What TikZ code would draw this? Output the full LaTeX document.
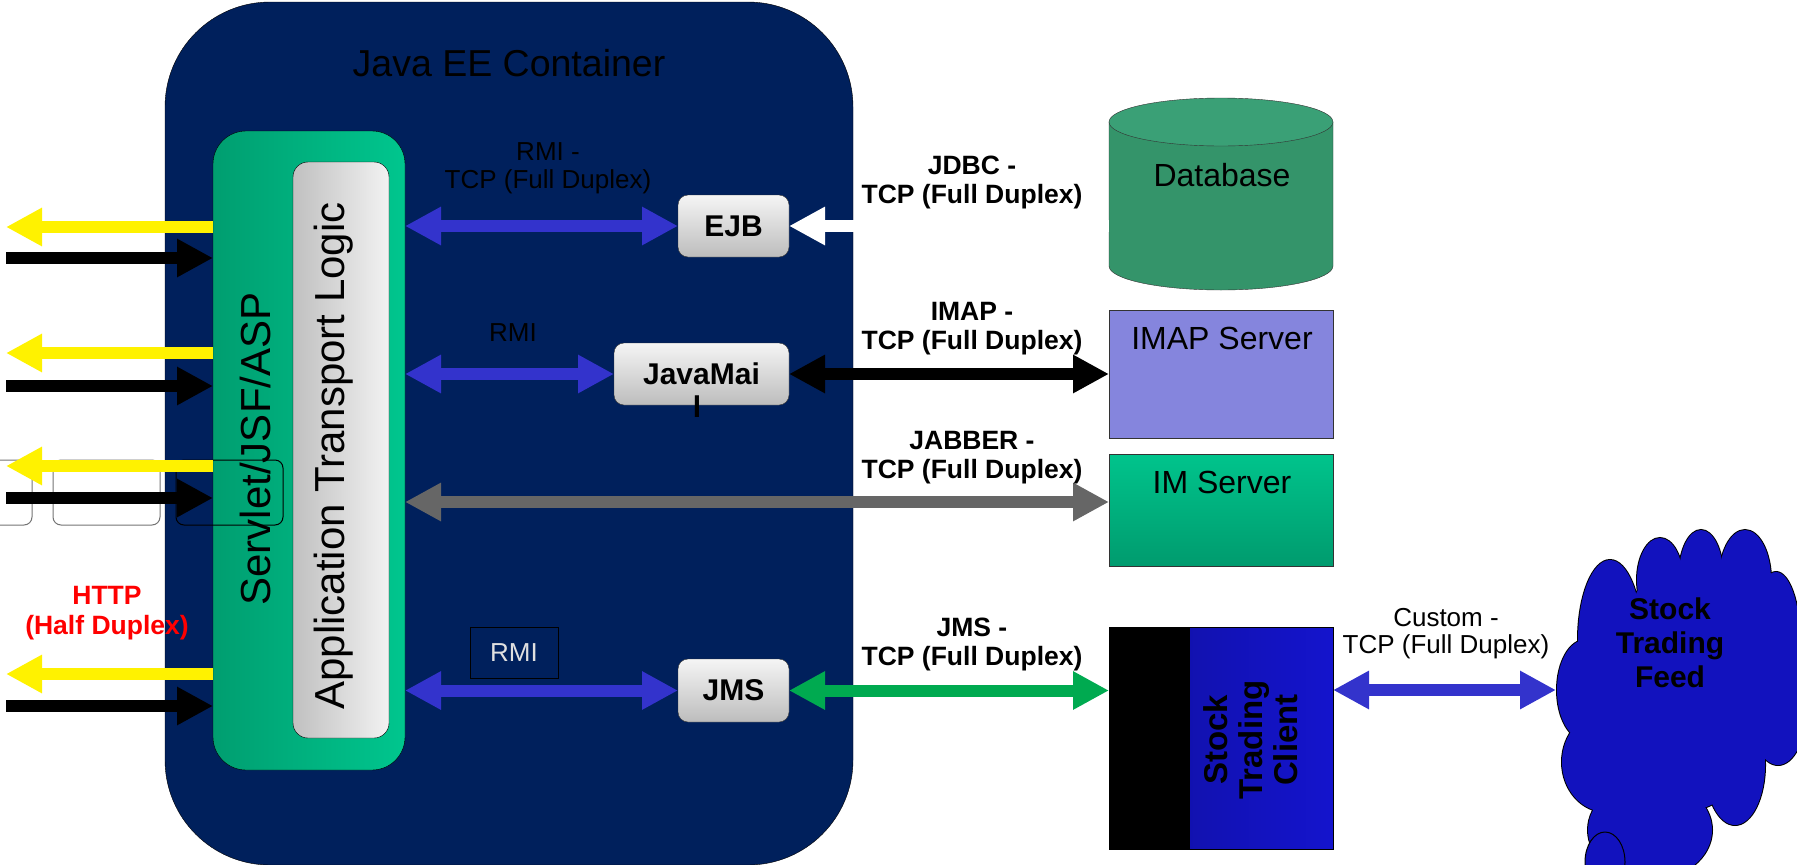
\documentclass[tikz,border=0pt]{standalone}
\usepackage{fontspec}
\setmainfont{Liberation Sans}
\usetikzlibrary{arrows.meta,calc}
\definecolor{navy}{RGB}{0,32,92}
\definecolor{grnL}{RGB}{0,158,112}
\definecolor{grnR}{RGB}{0,198,142}
\definecolor{appL}{RGB}{192,192,192}
\definecolor{appR}{RGB}{242,242,242}
\definecolor{bluarr}{RGB}{51,51,204}
\definecolor{grayarr}{RGB}{102,102,102}
\definecolor{grnarr}{RGB}{0,170,80}
\definecolor{dbtop}{RGB}{58,160,118}
\definecolor{dbbody}{RGB}{52,148,106}
\definecolor{imapc}{RGB}{133,133,221}
\definecolor{imT}{RGB}{0,196,140}
\definecolor{imB}{RGB}{0,155,110}
\definecolor{cliL}{RGB}{16,16,160}
\definecolor{cliR}{RGB}{20,20,205}
\definecolor{cloudc}{RGB}{18,18,190}
\definecolor{httpred}{RGB}{255,0,0}
\begin{document}
\begin{tikzpicture}[x=1pt,y=-1pt,
  every node/.style={inner sep=0pt,outer sep=0pt},
  fn/.style={font=\fontsize{26}{28}\selectfont,align=center},
  fb/.style={font=\bfseries\fontsize{26.5}{29}\selectfont,align=center},
  fbig/.style={font=\fontsize{32}{34}\selectfont},
  fbox/.style={font=\bfseries\fontsize{30}{34}\selectfont},
  sbox/.style={draw=black!80,top color=white!96!black,bottom color=black!26,rounded corners=10pt,fbox},
  tip/.style={line width=12pt,-{Triangle[length=36pt,width=36pt]}},
  tips/.style={line width=12pt,{Triangle[length=36pt,width=36pt]}-{Triangle[length=36pt,width=36pt]}},
  ghost/.style={draw=black!55,line width=1pt,rounded corners=8pt}
]
\useasboundingbox (0,0) rectangle (1797,865);

% container
\node[draw=black,fill=navy,rounded corners=105pt,minimum width=688pt,minimum height=863pt] (cont) at (509,433.5) {};
\node[font=\fontsize{37.5}{40}\selectfont] (title) at (509,63) {Java EE Container};

% servlet and app boxes
\node[draw=black,left color=grnL,right color=grnR,rounded corners=33pt,minimum width=192pt,minimum height=639pt] (servlet) at (309,450.5) {};
\node[rotate=90,font=\fontsize{42}{44}\selectfont] (servlettxt) at (255,449) {Servlet/JSF/ASP};
\node[draw=black,left color=appL,right color=appR,rounded corners=15pt,minimum width=96pt,minimum height=576pt] (app) at (341,450) {};
\node[rotate=90,font=\fontsize{42}{44}\selectfont] (apptxt) at (334,456) {Application Transport Logic};

% faint leftover boxes
\draw[ghost] (-40,460) rectangle (32,525);
\draw[ghost] (53,460) rectangle (160,525);
\draw[ghost,draw=black] (176,460) rectangle (283,525);

% small component boxes
\node[sbox,minimum width=111pt,minimum height=62pt] (ejb) at (733.5,226) {EJB};
\node[sbox,minimum width=175pt,minimum height=62pt] (mail) at (701.5,374) {JavaMai};
\node[fbox] (mailrest) at (697,407) {l};
\node[sbox,minimum width=111pt,minimum height=63pt] (jms) at (733.5,690.5) {JMS};

% database
\node[minimum width=224pt,minimum height=192pt] (db) at (1221,194) {};
\filldraw[draw=black!80,fill=dbbody] (1109,122) -- (1109,266) arc[start angle=180,end angle=0,x radius=112,y radius=24] -- (1333,122) -- cycle;
\filldraw[draw=black!80,fill=dbtop] (1221,122) ellipse[x radius=112,y radius=24];
\node[fbig] (dbtxt) at (1222,175) {Database};

% IMAP server
\node[draw=black!80,fill=imapc,minimum width=224pt,minimum height=128pt] (imap) at (1221,374) {};
\node[fbig] (imaptxt) at (1222,338) {IMAP Server};

% IM server
\node[draw=black!80,top color=imT,bottom color=imB,minimum width=224pt,minimum height=112pt] (im) at (1221,510) {};
\node[fbig] (imtxt) at (1222,482) {IM Server};

% stock trading client
\node[draw=black,left color=cliL,right color=cliR,minimum width=224pt,minimum height=222pt] (client) at (1221,738) {};
\fill[black] (client.north west) rectangle ($(client.south west)+(81,0)$);
\draw[black] (client.north west) rectangle (client.south east);
\node[rotate=90,align=center,font=\bfseries\fontsize{33}{35}\selectfont] (clienttxt) at (1251,740) {Stock\\Trading\\Client};

% cloud
\begin{scope}
\foreach \cx/\cy/\rx/\ry in {1610/640/32/80,1660/580/23/42,1701/575/22/45,1745/580/26/50,1776/640/24/68,1778/710/28/55,1585/690/28/50,1606/762/44/50,1650/830/62/50,1735/765/30/60,1690/700/70/110,1730/640/45/80,1690/620/60/60}
  \filldraw[fill=cloudc,draw=black,line width=2pt] (\cx,\cy) ellipse[x radius=\rx,y radius=\ry];
\foreach \cx/\cy/\rx/\ry in {1610/640/32/80,1660/580/23/42,1701/575/22/45,1745/580/26/50,1776/640/24/68,1778/710/28/55,1585/690/28/50,1606/762/44/50,1650/830/62/50,1735/765/30/60,1690/700/70/110,1730/640/45/80,1690/620/60/60}
  \fill[cloudc] (\cx,\cy) ellipse[x radius=\rx,y radius=\ry];
\filldraw[fill=cloudc,draw=black,line width=1pt] (1605,862) ellipse[x radius=20,y radius=30];
\end{scope}
\coordinate (feed) at (1556,690);
\node[align=center,font=\bfseries\fontsize{30}{34}\selectfont] (feedtxt) at (1670,643) {Stock\\Trading\\Feed};

% left HTTP arrows
\coordinate (y1) at (6,227);
\coordinate (b1) at (6,258);
\coordinate (y2) at (6,353);
\coordinate (b2) at (6,386);
\coordinate (y3) at (6,466);
\coordinate (b3) at (6,498);
\coordinate (y4) at (6,674);
\coordinate (b4) at (6,706);
\foreach \p in {y1,y2,y3,y4} \draw[tip,yellow] (servlet.west |- \p) -- (\p);
\foreach \p in {b1,b2,b3,b4} \draw[tip,black] (\p) -- (servlet.west |- \p);
\node[fb,text=httpred,font=\bfseries\fontsize{26.5}{30}\selectfont] (http) at (107,613) {HTTP\\(Half Duplex)};

% internal connectors
\draw[tips,bluarr] (servlet.east |- ejb) -- (ejb.west);
\draw[tips,bluarr] (servlet.east |- mail) -- (mail.west);
\draw[tips,bluarr] (servlet.east |- jms) -- (jms.west);
\node[fn] (rmi1) at (548,168.5) {RMI -\\TCP (Full Duplex)};
\node[fn] (rmi2) at (513,333) {RMI};
\node[draw=black,minimum width=88pt,minimum height=51pt,fn,text=white!88!black] (rmi3) at (514,652.5) {RMI};

% external connectors
\draw[tip,white] (db.west |- ejb) -- (ejb.east);
\draw[tips,black] (mail.east) -- (imap.west);
\coordinate (imin) at ($(im.west)+(0,-8)$);
\draw[tips,grayarr] (servlet.east |- imin) -- (imin);
\draw[tips,grnarr] (jms.east) -- (client.west |- jms);
\draw[tips,bluarr] (client.east |- feed) -- (feed);

\node[fb] (jdbc) at (972,182) {JDBC -\\TCP (Full Duplex)};
\node[fb] (imapl) at (972,329) {IMAP -\\TCP (Full Duplex)};
\node[fb] (jabber) at (972,457.5) {JABBER -\\TCP (Full Duplex)};
\node[fb] (jmsl) at (972,644.5) {JMS -\\TCP (Full Duplex)};
\node[fn,font=\fontsize{26}{27}\selectfont] (custom) at (1446,633.5) {Custom -\\TCP (Full Duplex)};
\end{tikzpicture}
\end{document}
